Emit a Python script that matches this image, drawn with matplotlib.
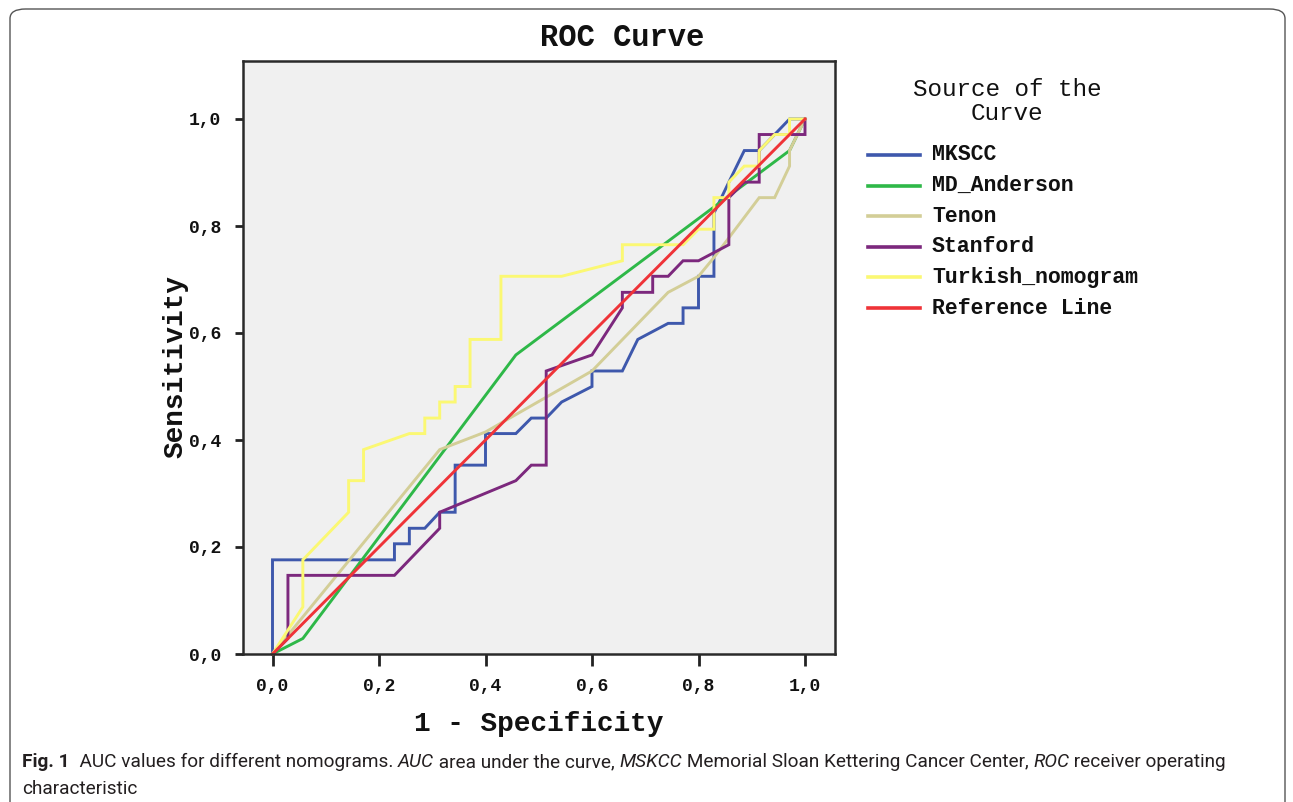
import matplotlib
matplotlib.use("Agg")
import matplotlib.pyplot as plt
from matplotlib import font_manager
from matplotlib.lines import Line2D
from matplotlib.patches import FancyBboxPatch

# ROC curve points (1 - specificity, sensitivity)
mskcc_fpr = [0.000, 0.000, 0.229, 0.229, 0.257, 0.257, 0.286, 0.314, 0.343, 0.343, 0.400,
             0.400, 0.457, 0.486, 0.514, 0.543, 0.600, 0.600, 0.657, 0.686, 0.743, 0.771,
             0.771, 0.800, 0.800, 0.829, 0.829, 0.857, 0.886, 0.914, 0.943, 0.971, 1.000]
mskcc_tpr = [0.000, 0.176, 0.176, 0.206, 0.206, 0.235, 0.235, 0.265, 0.265, 0.353, 0.353,
             0.412, 0.412, 0.441, 0.441, 0.471, 0.500, 0.529, 0.529, 0.588, 0.618, 0.618,
             0.647, 0.647, 0.706, 0.706, 0.824, 0.882, 0.941, 0.941, 0.971, 1.000, 1.000]

anderson_fpr = [0.000, 0.057, 0.457, 0.971, 1.000]
anderson_tpr = [0.000, 0.029, 0.559, 0.941, 1.000]

tenon_fpr = [0.000, 0.314, 0.400, 0.600, 0.743, 0.800, 0.829, 0.914, 0.943, 0.971, 0.971, 1.000]
tenon_tpr = [0.000, 0.382, 0.415, 0.529, 0.676, 0.706, 0.741, 0.853, 0.853, 0.912, 0.941, 1.000]

stanford_fpr = [0.000, 0.029, 0.029, 0.229, 0.314, 0.314, 0.457, 0.486, 0.514, 0.514, 0.600,
                0.657, 0.657, 0.714, 0.714, 0.743, 0.771, 0.800, 0.857, 0.857, 0.886, 0.914,
                0.914, 1.000, 1.000]
stanford_tpr = [0.000, 0.029, 0.147, 0.147, 0.235, 0.265, 0.324, 0.353, 0.353, 0.529, 0.559,
                0.647, 0.676, 0.676, 0.706, 0.706, 0.735, 0.735, 0.765, 0.853, 0.882, 0.882,
                0.971, 0.971, 1.000]

turkish_fpr = [0.000, 0.057, 0.057, 0.143, 0.143, 0.171, 0.171, 0.257, 0.286, 0.286, 0.314,
               0.314, 0.343, 0.343, 0.371, 0.371, 0.429, 0.429, 0.543, 0.657, 0.657, 0.771,
               0.800, 0.829, 0.829, 0.857, 0.857, 0.886, 0.914, 0.914, 0.943, 0.971, 0.971, 1.000]
turkish_tpr = [0.000, 0.088, 0.176, 0.265, 0.324, 0.324, 0.382, 0.412, 0.412, 0.441, 0.441,
               0.471, 0.471, 0.500, 0.500, 0.588, 0.588, 0.706, 0.706, 0.735, 0.765, 0.765,
               0.794, 0.794, 0.853, 0.853, 0.882, 0.912, 0.912, 0.941, 0.971, 0.971, 1.000, 1.000]

ref_fpr = [0.0, 1.0]
ref_tpr = [0.0, 1.0]

names = ["MKSCC", "MD_Anderson", "Tenon", "Stanford", "Turkish_nomogram", "Reference Line"]
colors = ["#3e58ac", "#2eb848", "#d3ce97", "#7c287d", "#fbf873", "#ef3338"]
ticks = [0.0, 0.2, 0.4, 0.6, 0.8, 1.0]
tick_labels = ["0,0", "0,2", "0,4", "0,6", "0,8", "1,0"]

W, H = 1293, 802
MONO = "Liberation Mono"
INK = "#111111"


def fx(px):
    return px / W


def fy(py):
    return 1 - py / H


def has_font(name, weight="normal"):
    try:
        path = font_manager.findfont(font_manager.FontProperties(family=name, weight=weight),
                                     fallback_to_default=False)
    except ValueError:
        return False
    if weight == "bold":
        return "bold" in path.lower()
    return True


fig = plt.figure(figsize=(W / 100, H / 100), dpi=100)

# outer rounded frame of the figure panel (open at the bottom)
frame = FancyBboxPatch((fx(10), fy(830)), fx(1285) - fx(10), fy(9) - fy(830),
                       boxstyle="round,pad=0,rounding_size=0.012", transform=fig.transFigure,
                       fill=False, edgecolor="#555555", lw=1.0, clip_on=False)
fig.patches.append(frame)

ax = fig.add_axes([fx(243), fy(654), fx(835) - fx(243), (654 - 61) / H])
ax.set_facecolor("#f0f0f0")

series = [(mskcc_fpr, mskcc_tpr), (anderson_fpr, anderson_tpr), (tenon_fpr, tenon_tpr),
          (stanford_fpr, stanford_tpr), (turkish_fpr, turkish_tpr), (ref_fpr, ref_tpr)]
for (xs, ys), name, c in zip(series, names, colors):
    ax.plot(xs, ys, color=c, lw=2.1, label=name, solid_joinstyle="miter", clip_on=False)

ax.set_xlim((243 - 272.5) / 532.5, (835 - 272.5) / 532.5)
ax.set_ylim(0, (654 - 61) / 535)
ax.set_xticks(ticks)
ax.set_xticklabels(tick_labels)
ax.set_yticks(ticks)
ax.set_yticklabels(tick_labels)
for lab in ax.get_xticklabels() + ax.get_yticklabels():
    lab.set_family(MONO)
    lab.set_weight("bold")
    lab.set_fontsize(13)
    lab.set_color(INK)
ax.tick_params(axis="x", direction="out", length=8.5, width=2, pad=9, color="#222222")
ax.tick_params(axis="y", direction="out", length=6, width=2, pad=10, color="#222222")
for sp in ax.spines.values():
    sp.set_color("#2a2a2a")
    sp.set_linewidth(1.8)

ax.set_xlabel("1 - Specificity", family=MONO, weight="bold", fontsize=20, color=INK)
ax.set_ylabel("Sensitivity", family=MONO, weight="bold", fontsize=20, color=INK)
ax.xaxis.label.set_va("center")
ax.yaxis.label.set_va("center")
ax.xaxis.set_label_coords(0.5, -(724 - 654) / 593)
ax.yaxis.set_label_coords((176 - 243) / 592, (654 - 367) / 593)

fig.text(fx(622), fy(38), "ROC Curve", family=MONO, weight="bold", fontsize=22,
         ha="center", va="center", color=INK)

# legend, drawn by hand to keep the SPSS spacing
fig.text(fx(1007), fy(89), "Source of the", family=MONO, fontsize=17.5,
         ha="center", va="center", color=INK)
fig.text(fx(1007), fy(114), "Curve", family=MONO, fontsize=17.5,
         ha="center", va="center", color=INK)
for i, (name, c) in enumerate(zip(names, colors)):
    yy = 155 + i * 30.6
    fig.add_artist(Line2D([fx(868), fx(920)], [fy(yy), fy(yy)], color=c, lw=2.6,
                          transform=fig.transFigure))
    fig.text(fx(932), fy(yy), name, family=MONO, weight="bold", fontsize=15.5,
             ha="left", va="center", color=INK)

# caption
cap_family = "Liberation Sans"
for cand in ["Liberation Sans Narrow", "Roboto", "Lato", "Open Sans"]:
    if has_font(cand, "bold"):
        cap_family = cand
        break

line1 = [("Fig. 1", "bold", "normal"),
         ("  AUC values for different nomograms. ", "normal", "normal"),
         ("AUC", "normal", "italic"),
         (" area under the curve, ", "normal", "normal"),
         ("MSKCC", "normal", "italic"),
         (" Memorial Sloan Kettering Cancer Center, ", "normal", "normal"),
         ("ROC", "normal", "italic"),
         (" receiver operating", "normal", "normal")]
line2 = [("characteristic", "normal", "normal")]

renderer = fig.canvas.get_renderer()


def draw_segments(segs, x0, base, size):
    x = x0
    arts = []
    for s, w, st in segs:
        t = fig.text(fx(x), fy(base), s, family=cap_family, weight=w, style=st,
                     fontsize=size, va="baseline", ha="left", color="#231f20")
        x += t.get_window_extent(renderer).width
        arts.append(t)
    return x, arts


end, arts = draw_segments(line1, 22, 767, 14)
for a in arts:
    a.remove()
size = min(15.0, 14 * (1237 - 22) / (end - 22))
draw_segments(line1, 22, 767, size)
draw_segments(line2, 22, 794, size)

fig.savefig("out.png", dpi=100)
